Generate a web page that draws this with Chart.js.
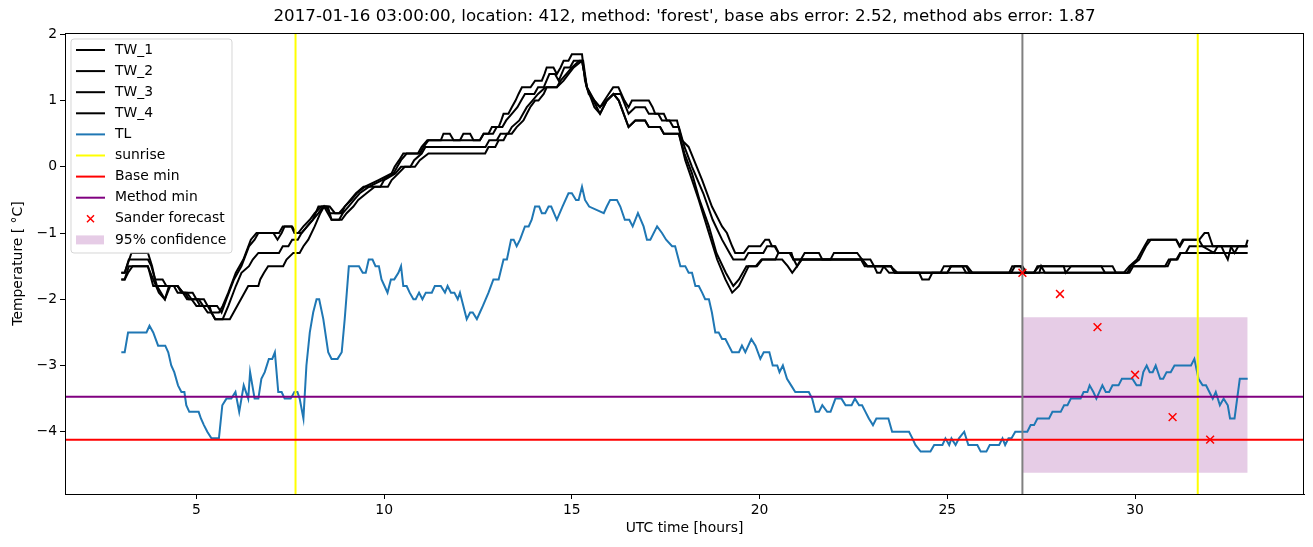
<!DOCTYPE html>
<html>
<head>
<meta charset="utf-8">
<title>Temperature forecast</title>
<script src="https://cdn.jsdelivr.net/npm/chart.js@4.4.0/dist/chart.umd.min.js"></script>
<style>
    html, body { margin: 0; padding: 0; background: #fff; }
    #wrap { width: 1313px; height: 547px; }
</style>
</head>
<body>
<div id="wrap"><canvas id="tempChart" width="1313" height="547"></canvas></div>
<script>
// Axis ranges and ticks
const xMin = 1.5, xMax = 34.5;
const yMin = -4.94, yMax = 2.02;
const xTicks = [5, 10, 15, 20, 25, 30];
const yTicks = [-4, -3, -2, -1, 0, 1, 2];

const chartTitle = "2017-01-16 03:00:00, location: 412, method: 'forest', base abs error: 2.52, method abs error: 1.87";

// Road sensor temperatures (hour, value)
const tw1 = [[3.0,-1.6],[3.09,-1.6],[3.27,-1.3],[3.71,-1.3],[3.82,-1.5],[3.9,-1.7],[4.1,-1.7],[4.2,-1.8],[4.5,-1.8],[4.6,-1.9],[4.9,-1.9],[5.0,-2.0],[5.2,-2.0],[5.3,-2.1],[5.55,-2.1],[5.67,-2.2],[5.8,-2.0],[6.0,-1.7],[6.2,-1.5],[6.4,-1.2],[6.55,-1.1],[6.65,-1.0],[7.05,-1.0],[7.16,-1.1],[7.27,-1.0],[7.35,-0.9],[7.53,-0.9],[7.61,-1.0],[7.71,-1.0],[7.85,-0.9],[8.02,-0.8],[8.15,-0.7],[8.33,-0.6],[8.55,-0.6],[8.69,-0.7],[8.87,-0.7],[8.95,-0.6],[9.13,-0.5],[9.27,-0.4],[9.49,-0.3],[9.85,-0.2],[10.2,-0.1],[10.28,0.0],[10.4,0.1],[10.51,0.2],[10.95,0.2],[11.05,0.3],[11.18,0.4],[11.51,0.4],[11.58,0.5],[11.75,0.5],[11.85,0.4],[12.02,0.4],[12.11,0.5],[12.29,0.5],[12.38,0.4],[12.55,0.4],[12.65,0.5],[12.78,0.5],[12.87,0.6],[13.05,0.6],[13.12,0.7],[13.18,0.8],[13.31,0.8],[13.4,0.9],[13.5,1.0],[13.58,1.1],[13.67,1.2],[13.9,1.2],[14.02,1.3],[14.2,1.3],[14.27,1.4],[14.33,1.5],[14.51,1.5],[14.6,1.4],[14.7,1.5],[14.78,1.6],[14.91,1.6],[15.0,1.7],[15.27,1.7],[15.35,1.3],[15.45,1.1],[15.75,0.9],[15.98,1.1],[16.1,1.2],[16.24,1.2],[16.4,1.0],[16.51,0.9],[16.6,1.0],[17.05,1.0],[17.15,0.9],[17.22,0.8],[17.45,0.8],[17.53,0.7],[17.8,0.7],[17.93,0.4],[18.11,0.3],[18.47,-0.2],[18.73,-0.6],[19.0,-0.9],[19.13,-1.0],[19.27,-1.2],[19.35,-1.3],[19.58,-1.3],[19.71,-1.2],[20.02,-1.2],[20.15,-1.1],[20.25,-1.1],[20.33,-1.2],[20.42,-1.2],[20.51,-1.3],[20.82,-1.3],[20.91,-1.4],[21.0,-1.5],[21.1,-1.4],[21.2,-1.3],[21.58,-1.3],[21.67,-1.4],[21.89,-1.4],[21.98,-1.3],[22.6,-1.3],[22.73,-1.4],[22.95,-1.4],[23.05,-1.5],[23.13,-1.6],[23.22,-1.6],[23.31,-1.5],[23.49,-1.5],[23.67,-1.6],[24.25,-1.6],[24.33,-1.7],[24.51,-1.7],[24.6,-1.6],[24.82,-1.6],[24.91,-1.5],[25.53,-1.5],[25.67,-1.6],[26.65,-1.6],[26.73,-1.5],[26.95,-1.5],[27.05,-1.6],[27.31,-1.6],[27.4,-1.5],[29.4,-1.5],[29.49,-1.6],[29.8,-1.6],[29.89,-1.5],[30.11,-1.4],[30.2,-1.3],[30.29,-1.2],[30.42,-1.1],[31.09,-1.1],[31.18,-1.2],[31.27,-1.1],[31.71,-1.1],[31.85,-1.0],[31.95,-1.0],[32.07,-1.2],[32.3,-1.2],[32.38,-1.3],[32.47,-1.4],[32.56,-1.2],[32.95,-1.2],[33.0,-1.1]];

const tw2 = [[3.0,-1.6],[3.09,-1.6],[3.2,-1.4],[3.71,-1.4],[3.8,-1.5],[3.95,-1.8],[4.16,-2.0],[4.27,-1.8],[4.5,-1.8],[4.64,-1.9],[4.75,-1.9],[4.87,-2.0],[5.06,-2.0],[5.18,-2.1],[5.35,-2.1],[5.4,-2.2],[5.6,-2.2],[5.7,-2.1],[5.85,-1.9],[6.05,-1.6],[6.25,-1.4],[6.45,-1.1],[6.6,-1.0],[7.2,-1.0],[7.3,-0.9],[7.55,-0.9],[7.65,-1.0],[7.8,-1.0],[7.95,-0.9],[8.1,-0.8],[8.25,-0.7],[8.38,-0.6],[8.5,-0.6],[8.6,-0.8],[8.8,-0.8],[8.9,-0.7],[9.05,-0.6],[9.2,-0.5],[9.35,-0.4],[9.6,-0.3],[9.95,-0.2],[10.25,-0.1],[10.35,0.0],[10.45,0.1],[10.6,0.2],[10.9,0.2],[11.0,0.3],[11.15,0.4],[12.55,0.4],[12.65,0.5],[12.9,0.5],[13.0,0.6],[13.15,0.6],[13.25,0.7],[13.4,0.8],[13.55,0.9],[13.65,1.0],[13.75,1.1],[14.0,1.1],[14.1,1.2],[14.25,1.2],[14.4,1.4],[14.55,1.4],[14.65,1.3],[14.8,1.5],[14.95,1.5],[15.05,1.6],[15.3,1.6],[15.4,1.2],[15.6,1.0],[15.75,0.9],[15.93,1.0],[16.11,1.1],[16.3,1.1],[16.51,0.8],[16.69,0.9],[16.95,0.9],[17.05,0.8],[17.3,0.8],[17.4,0.7],[17.6,0.7],[17.7,0.6],[17.85,0.6],[18.0,0.3],[18.2,0.0],[18.5,-0.4],[18.75,-0.8],[19.0,-1.1],[19.2,-1.3],[19.3,-1.4],[19.6,-1.4],[19.7,-1.3],[20.1,-1.3],[20.2,-1.2],[20.4,-1.2],[20.5,-1.3],[20.85,-1.3],[20.9,-1.4],[22.73,-1.4],[22.87,-1.5],[23.5,-1.5],[23.6,-1.6],[25.0,-1.6],[25.1,-1.5],[25.5,-1.5],[25.6,-1.6],[26.7,-1.6],[26.8,-1.5],[27.0,-1.5],[27.1,-1.6],[27.3,-1.6],[27.45,-1.5],[28.1,-1.5],[28.15,-1.6],[28.3,-1.5],[29.1,-1.5],[29.2,-1.6],[29.7,-1.6],[29.85,-1.5],[30.05,-1.4],[30.15,-1.3],[30.25,-1.2],[30.35,-1.1],[31.1,-1.1],[31.2,-1.2],[31.3,-1.1],[31.7,-1.1],[31.8,-1.2],[32.1,-1.3],[32.2,-1.2],[32.55,-1.2],[32.65,-1.3],[32.75,-1.2],[33.0,-1.2]];

const tw3 = [[3.0,-1.7],[3.09,-1.7],[3.2,-1.5],[3.71,-1.5],[3.85,-1.8],[4.4,-1.8],[4.5,-1.9],[4.7,-1.9],[4.8,-2.0],[5.0,-2.0],[5.1,-2.1],[5.3,-2.1],[5.4,-2.2],[5.5,-2.3],[5.7,-2.3],[5.85,-2.1],[6.05,-1.8],[6.2,-1.6],[6.4,-1.5],[6.5,-1.4],[6.65,-1.3],[7.2,-1.3],[7.3,-1.2],[7.45,-1.2],[7.55,-1.1],[7.7,-1.1],[7.8,-1.0],[7.95,-0.9],[8.1,-0.8],[8.25,-0.6],[8.45,-0.6],[8.55,-0.7],[8.8,-0.7],[8.95,-0.6],[9.1,-0.5],[9.25,-0.4],[9.45,-0.3],[9.9,-0.3],[10.0,-0.2],[10.3,-0.1],[10.45,0.0],[10.7,0.0],[10.8,0.1],[11.0,0.2],[11.1,0.3],[12.7,0.3],[12.8,0.4],[13.0,0.4],[13.1,0.5],[13.3,0.5],[13.4,0.6],[13.6,0.7],[13.7,0.8],[13.8,0.9],[13.95,1.0],[14.1,1.1],[14.3,1.2],[14.6,1.2],[14.7,1.3],[14.85,1.4],[15.0,1.5],[15.2,1.6],[15.27,1.6],[15.4,1.2],[15.6,0.9],[15.75,0.8],[15.93,1.0],[16.11,1.1],[16.25,1.0],[16.51,0.6],[16.69,0.7],[16.95,0.7],[17.05,0.6],[17.35,0.6],[17.45,0.5],[17.85,0.5],[18.0,0.2],[18.2,-0.1],[18.4,-0.5],[18.65,-0.9],[18.85,-1.3],[19.1,-1.6],[19.3,-1.8],[19.45,-1.7],[19.65,-1.5],[19.9,-1.5],[20.05,-1.4],[20.42,-1.4],[20.5,-1.3],[20.8,-1.3],[20.9,-1.4],[22.7,-1.4],[22.8,-1.5],[23.3,-1.5],[23.45,-1.6],[25.0,-1.6],[25.1,-1.5],[25.4,-1.5],[25.5,-1.6],[27.45,-1.6],[27.5,-1.5],[27.6,-1.6],[29.85,-1.6],[29.95,-1.5],[30.8,-1.5],[30.9,-1.4],[31.1,-1.4],[31.2,-1.3],[31.35,-1.3],[31.45,-1.2],[33.0,-1.2]];

const tw4 = [[3.0,-1.7],[3.09,-1.7],[3.18,-1.6],[3.3,-1.5],[3.7,-1.5],[3.85,-1.7],[4.0,-1.9],[4.16,-2.0],[4.3,-1.8],[4.5,-1.8],[4.64,-1.9],[4.75,-2.0],[4.87,-2.0],[5.0,-2.1],[5.18,-2.1],[5.3,-2.2],[5.4,-2.2],[5.5,-2.3],[5.89,-2.3],[6.38,-1.8],[6.65,-1.8],[6.7,-1.7],[6.8,-1.6],[6.91,-1.5],[7.31,-1.5],[7.4,-1.4],[7.58,-1.3],[7.75,-1.3],[7.85,-1.2],[7.98,-1.1],[8.15,-0.9],[8.3,-0.7],[8.4,-0.6],[8.5,-0.7],[8.6,-0.8],[8.87,-0.8],[9.0,-0.7],[9.18,-0.6],[9.31,-0.5],[9.53,-0.4],[9.75,-0.3],[10.1,-0.3],[10.2,-0.2],[10.38,-0.1],[10.55,0.0],[10.82,0.0],[10.95,0.1],[11.18,0.2],[12.69,0.2],[12.78,0.3],[12.96,0.3],[13.05,0.4],[13.18,0.4],[13.27,0.5],[13.4,0.5],[13.53,0.6],[13.71,0.7],[13.8,0.8],[13.89,0.9],[14.02,1.0],[14.11,1.0],[14.25,1.1],[14.33,1.2],[14.6,1.2],[14.78,1.3],[14.91,1.4],[15.05,1.5],[15.27,1.6],[15.4,1.2],[15.75,0.8],[15.93,1.0],[16.11,1.1],[16.25,1.0],[16.51,0.6],[16.69,0.7],[16.95,0.7],[17.05,0.6],[17.35,0.6],[17.45,0.5],[17.85,0.5],[18.02,0.1],[18.2,-0.2],[18.38,-0.5],[18.65,-1.0],[18.87,-1.4],[19.09,-1.7],[19.27,-1.9],[19.45,-1.8],[19.71,-1.5],[19.93,-1.5],[20.07,-1.4],[20.6,-1.4],[20.75,-1.5],[20.87,-1.6],[21.0,-1.5],[21.13,-1.4],[22.73,-1.4],[22.87,-1.5],[23.5,-1.5],[23.6,-1.6],[29.8,-1.6],[29.89,-1.5],[30.87,-1.5],[30.95,-1.4],[31.13,-1.4],[31.22,-1.3],[33.0,-1.3]];

// Air temperature (hour, value)
const tl = [[3.0,-2.8],[3.09,-2.8],[3.18,-2.5],[3.67,-2.5],[3.75,-2.4],[3.85,-2.5],[3.98,-2.7],[4.17,-2.7],[4.25,-2.8],[4.33,-3.0],[4.41,-3.1],[4.51,-3.3],[4.6,-3.4],[4.68,-3.4],[4.73,-3.6],[4.81,-3.7],[5.06,-3.7],[5.12,-3.8],[5.2,-3.9],[5.29,-4.0],[5.4,-4.1],[5.6,-4.1],[5.69,-3.6],[5.8,-3.5],[5.93,-3.5],[6.04,-3.4],[6.14,-3.7],[6.26,-3.3],[6.38,-3.5],[6.43,-3.1],[6.55,-3.5],[6.65,-3.5],[6.73,-3.2],[6.82,-3.1],[6.93,-2.9],[7.02,-2.9],[7.09,-2.8],[7.18,-3.4],[7.27,-3.4],[7.35,-3.5],[7.51,-3.5],[7.61,-3.4],[7.69,-3.4],[7.75,-3.5],[7.85,-3.8],[7.93,-3.0],[8.02,-2.5],[8.11,-2.2],[8.2,-2.0],[8.27,-2.0],[8.38,-2.3],[8.51,-2.8],[8.6,-2.9],[8.76,-2.9],[8.87,-2.8],[8.95,-2.3],[9.06,-1.5],[9.33,-1.5],[9.43,-1.6],[9.51,-1.6],[9.59,-1.4],[9.69,-1.4],[9.77,-1.5],[9.86,-1.5],[9.93,-1.7],[10.01,-1.8],[10.09,-1.9],[10.18,-1.7],[10.27,-1.7],[10.38,-1.6],[10.45,-1.5],[10.51,-1.8],[10.6,-1.8],[10.68,-1.9],[10.78,-2.0],[10.84,-2.0],[10.93,-1.9],[11.02,-2.0],[11.11,-1.9],[11.27,-1.9],[11.35,-1.8],[11.51,-1.8],[11.62,-1.9],[11.69,-1.8],[11.78,-1.9],[11.87,-1.9],[11.96,-2.0],[12.02,-1.9],[12.11,-2.1],[12.2,-2.3],[12.29,-2.2],[12.36,-2.2],[12.47,-2.3],[12.55,-2.2],[12.63,-2.1],[12.78,-1.9],[12.91,-1.7],[13.05,-1.7],[13.18,-1.4],[13.27,-1.4],[13.38,-1.1],[13.45,-1.1],[13.53,-1.2],[13.62,-1.1],[13.75,-0.9],[13.85,-0.9],[13.93,-0.8],[14.02,-0.6],[14.13,-0.6],[14.2,-0.7],[14.29,-0.7],[14.38,-0.6],[14.45,-0.6],[14.6,-0.8],[14.75,-0.6],[14.91,-0.4],[15.0,-0.4],[15.11,-0.5],[15.18,-0.5],[15.27,-0.3],[15.35,-0.5],[15.46,-0.6],[15.85,-0.7],[15.93,-0.6],[16.02,-0.5],[16.2,-0.5],[16.29,-0.6],[16.41,-0.8],[16.53,-0.8],[16.62,-0.9],[16.76,-0.7],[16.91,-0.9],[17.0,-1.1],[17.09,-1.1],[17.27,-0.9],[17.4,-1.0],[17.51,-1.1],[17.67,-1.2],[17.75,-1.2],[17.89,-1.5],[18.02,-1.5],[18.11,-1.6],[18.2,-1.6],[18.29,-1.8],[18.38,-1.8],[18.47,-1.9],[18.55,-2.0],[18.65,-2.0],[18.73,-2.2],[18.82,-2.5],[18.91,-2.5],[19.0,-2.6],[19.09,-2.6],[19.18,-2.7],[19.27,-2.8],[19.45,-2.8],[19.53,-2.7],[19.62,-2.8],[19.78,-2.6],[19.89,-2.7],[20.02,-2.9],[20.11,-2.8],[20.26,-2.8],[20.35,-3.0],[20.47,-3.0],[20.53,-3.1],[20.62,-3.0],[20.73,-3.2],[20.84,-3.3],[20.95,-3.4],[21.22,-3.4],[21.31,-3.4],[21.4,-3.5],[21.49,-3.7],[21.58,-3.7],[21.67,-3.6],[21.8,-3.7],[21.89,-3.7],[22.02,-3.5],[22.18,-3.5],[22.29,-3.6],[22.45,-3.6],[22.54,-3.5],[22.65,-3.6],[22.73,-3.6],[22.82,-3.7],[22.91,-3.8],[23.02,-3.9],[23.11,-3.8],[23.43,-3.8],[23.53,-4.0],[23.98,-4.0],[24.07,-4.1],[24.15,-4.2],[24.29,-4.3],[24.55,-4.3],[24.65,-4.2],[24.87,-4.2],[24.95,-4.1],[25.05,-4.2],[25.11,-4.1],[25.22,-4.2],[25.31,-4.1],[25.45,-4.0],[25.56,-4.2],[25.8,-4.2],[25.89,-4.3],[26.04,-4.3],[26.13,-4.2],[26.38,-4.2],[26.47,-4.1],[26.54,-4.2],[26.63,-4.1],[26.71,-4.1],[26.81,-4.0],[27.13,-4.0],[27.22,-3.9],[27.31,-3.9],[27.4,-3.8],[27.71,-3.8],[27.8,-3.7],[28.02,-3.7],[28.11,-3.6],[28.2,-3.6],[28.29,-3.5],[28.55,-3.5],[28.63,-3.4],[28.73,-3.4],[28.79,-3.3],[28.89,-3.4],[28.97,-3.5],[29.13,-3.3],[29.22,-3.4],[29.31,-3.4],[29.4,-3.3],[29.56,-3.3],[29.65,-3.2],[29.93,-3.2],[30.04,-3.3],[30.15,-3.3],[30.22,-3.1],[30.31,-3.0],[30.39,-3.1],[30.47,-3.1],[30.55,-3.0],[30.67,-3.2],[30.75,-3.2],[30.84,-3.1],[30.95,-3.1],[31.05,-3.0],[31.49,-3.0],[31.58,-2.9],[31.69,-3.2],[31.8,-3.3],[31.89,-3.3],[31.98,-3.4],[32.07,-3.5],[32.15,-3.4],[32.26,-3.6],[32.36,-3.5],[32.47,-3.6],[32.53,-3.8],[32.65,-3.8],[32.79,-3.2],[33.0,-3.2]];

// Reference lines
const sunriseHours = [7.64, 31.67];
const baseMin = -4.12;
const methodMin = -3.47;
const forecastHour = 27;

// Sander forecast
const sanderHours = [27, 28, 29, 30, 31, 32];
const sanderTemps = [-1.60, -1.92, -2.42, -3.14, -3.78, -4.12];

// 95% confidence box
const confHours = [27, 33];
const confUpper = -2.27;
const confLower = -4.62;

const BAND = "rgba(128, 0, 128, 0.2)";
const FONT = "'DejaVu Sans', sans-serif";
const TEXT_SIZE = 13.9;

function toPoints(pairs) {
    return pairs.map((p) => ({ x: p[0], y: p[1] }));
}

function lineSet(label, data, color, order) {
    return {
        label: label,
        data: data,
        borderColor: color,
        backgroundColor: color,
        borderWidth: 2,
        pointRadius: 0,
        tension: 0,
        fill: false,
        order: order,
    };
}

const datasets = [
    lineSet("TW_1", toPoints(tw1), "#000", 9),
    lineSet("TW_2", toPoints(tw2), "#000", 8),
    lineSet("TW_3", toPoints(tw3), "#000", 7),
    lineSet("TW_4", toPoints(tw4), "#000", 6),
    lineSet("TL", toPoints(tl), "#1f77b4", 5),
];

sunriseHours.forEach((h) => {
    datasets.push(lineSet("sunrise", [{ x: h, y: yMin }, { x: h, y: yMax }], "#ffff00", 4));
});
datasets.push(lineSet("Base min", [{ x: xMin, y: baseMin }, { x: xMax, y: baseMin }], "#ff0000", 3));
datasets.push(lineSet("Method min", [{ x: xMin, y: methodMin }, { x: xMax, y: methodMin }], "#800080", 2));
datasets.push(lineSet("forecast", [{ x: forecastHour, y: yMin }, { x: forecastHour, y: yMax }], "#808080", 1));

datasets.push({
    label: "Sander forecast",
    data: sanderHours.map((h, i) => ({ x: h, y: sanderTemps[i] })),
    showLine: false,
    pointStyle: "crossRot",
    pointRadius: 5.5,
    pointBorderWidth: 1.5,
    borderColor: "#ff0000",
    backgroundColor: "#ff0000",
    order: 0,
});

// confidence box: upper edge filled down to the lower edge
datasets.push({
    label: "95% confidence",
    data: confHours.map((h) => ({ x: h, y: confUpper })),
    borderWidth: 0,
    pointRadius: 0,
    backgroundColor: BAND,
    fill: "+1",
    order: 11,
});
datasets.push({
    label: "conf-low",
    data: confHours.map((h) => ({ x: h, y: confLower })),
    borderWidth: 0,
    pointRadius: 0,
    fill: false,
    order: 12,
});

const legendItems = [
    { label: "TW_1", kind: "line", color: "#000" },
    { label: "TW_2", kind: "line", color: "#000" },
    { label: "TW_3", kind: "line", color: "#000" },
    { label: "TW_4", kind: "line", color: "#000" },
    { label: "TL", kind: "line", color: "#1f77b4" },
    { label: "sunrise", kind: "line", color: "#ffff00" },
    { label: "Base min", kind: "line", color: "#ff0000" },
    { label: "Method min", kind: "line", color: "#800080" },
    { label: "Sander forecast", kind: "cross", color: "#ff0000" },
    { label: "95% confidence", kind: "patch", color: BAND },
];

// Title, top/right frame and the legend box
const decorPlugin = {
    id: "decor",
    afterDraw(chart) {
        const ctx = chart.ctx;
        const area = chart.chartArea;

        ctx.save();
        ctx.strokeStyle = "#000";
        ctx.lineWidth = 1;
        ctx.strokeRect(area.left + 0.5, area.top + 0.5, area.right - area.left - 1, area.bottom - area.top);

        ctx.fillStyle = "#000";
        ctx.font = "16.7px " + FONT;
        ctx.textAlign = "center";
        ctx.textBaseline = "middle";
        ctx.fillText(chartTitle, (area.left + area.right) / 2, 17);

        // legend
        const bx = 71, by = 39, bw = 161, bh = 214, r = 3;
        ctx.beginPath();
        ctx.moveTo(bx + r, by);
        ctx.arcTo(bx + bw, by, bx + bw, by + bh, r);
        ctx.arcTo(bx + bw, by + bh, bx, by + bh, r);
        ctx.arcTo(bx, by + bh, bx, by, r);
        ctx.arcTo(bx, by, bx + bw, by, r);
        ctx.closePath();
        ctx.fillStyle = "rgba(255,255,255,0.8)";
        ctx.fill();
        ctx.strokeStyle = "rgba(204,204,204,0.8)";
        ctx.stroke();

        ctx.font = TEXT_SIZE + "px " + FONT;
        ctx.textAlign = "left";
        legendItems.forEach((item, i) => {
            const y = 50 + i * 21.1;
            if (item.kind === "line") {
                ctx.strokeStyle = item.color;
                ctx.lineWidth = 2;
                ctx.beginPath();
                ctx.moveTo(76, y);
                ctx.lineTo(105, y);
                ctx.stroke();
            } else if (item.kind === "cross") {
                ctx.strokeStyle = item.color;
                ctx.lineWidth = 1.5;
                ctx.beginPath();
                ctx.moveTo(87, y - 3.5);
                ctx.lineTo(94, y + 3.5);
                ctx.moveTo(94, y - 3.5);
                ctx.lineTo(87, y + 3.5);
                ctx.stroke();
            } else {
                ctx.fillStyle = item.color;
                ctx.fillRect(76, y - 4.5, 28, 9);
            }
            ctx.fillStyle = "#000";
            ctx.fillText(item.label, 115, y);
        });
        ctx.restore();
    },
};

Chart.defaults.font.family = FONT;
Chart.defaults.font.size = TEXT_SIZE;
Chart.defaults.color = "#000";

const ctx = document.getElementById("tempChart").getContext("2d");
const tempChart = new Chart(ctx, {
    type: "line",
    data: { datasets: datasets },
    options: {
        responsive: false,
        animation: false,
        devicePixelRatio: 1,
        layout: { padding: { top: 33, right: 9, left: 0, bottom: 0 } },
        plugins: {
            legend: { display: false },
            tooltip: { enabled: false },
            title: { display: false },
        },
        scales: {
            x: {
                type: "linear",
                min: xMin,
                max: xMax,
                afterBuildTicks: (s) => { s.ticks = xTicks.map((v) => ({ value: v })); },
                afterFit: (s) => { s.height = 53; },
                grid: { drawOnChartArea: false, drawTicks: true, tickLength: 5, tickColor: "#000", tickWidth: 1 },
                border: { display: true, color: "#000", width: 1 },
                ticks: { color: "#000", padding: 3, maxRotation: 0, autoSkip: false },
                title: { display: true, text: "UTC time [hours]", color: "#000", padding: { top: 0, bottom: 10 } },
            },
            y: {
                type: "linear",
                min: yMin,
                max: yMax,
                afterBuildTicks: (s) => { s.ticks = yTicks.map((v) => ({ value: v })); },
                afterFit: (s) => { s.width = 65; },
                grid: { drawOnChartArea: false, drawTicks: true, tickLength: 5, tickColor: "#000", tickWidth: 1 },
                border: { display: true, color: "#000", width: 1 },
                ticks: {
                    color: "#000",
                    padding: 3,
                    callback: (v) => String(v).replace("-", "\u2212"),
                },
                title: { display: true, text: "Temperature [ \u00b0C]", color: "#000", padding: { top: 10, bottom: 0 } },
            },
        },
    },
    plugins: [decorPlugin],
});
</script>
</body>
</html>
